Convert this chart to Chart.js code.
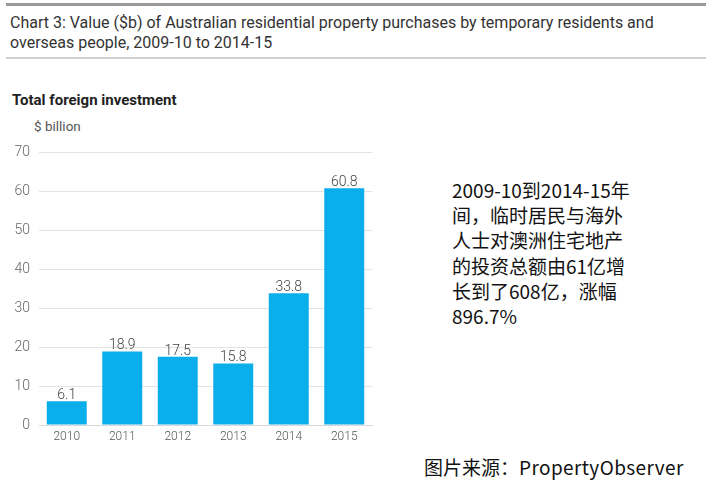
<!DOCTYPE html>
<html>
<head>
<meta charset="utf-8">
<script src="https://cdn.jsdelivr.net/npm/chart.js@4"></script>
<style>
    body { margin: 0; background: #fff; width: 713px; height: 496px; position: relative; overflow: hidden; }
    .rule-top { position: absolute; left: 6px; top: 3px; width: 700px; height: 3px; background: #9a9a9a; }
    .rule-mid { position: absolute; left: 6px; top: 57px; width: 700px; height: 2px; background: #cfcfcf; }
    .titulo { position: absolute; left: 10px; top: 13px; font-family: "Liberation Sans Narrow", "Roboto", sans-serif; font-size: 16px; line-height: 20px; color: #333; }
    .sub { position: absolute; left: 12px; top: 91px; font-family: "Roboto", sans-serif; font-weight: bold; font-size: 15px; color: #222; }
    .unidade { position: absolute; left: 34px; top: 118px; font-family: "Roboto", sans-serif; font-size: 13.5px; color: #555; }
    #wrap { position: absolute; left: 0; top: 135px; width: 385px; height: 312px; }
    .nota { position: absolute; left: 452px; top: 177px; font-family: "Noto Sans CJK SC", sans-serif; font-size: 19px; line-height: 25.2px; color: #111; }
    .fonte { position: absolute; left: 424px; top: 454px; font-family: "Noto Sans CJK SC", sans-serif; font-size: 19px; line-height: 26px; color: #111; }
    .ls { letter-spacing: 0.4px; }
</style>
</head>
<body>
<div class="rule-top"></div>
<div class="titulo">Chart 3: Value ($b) of Australian residential property purchases by temporary residents and<br>overseas people, 2009-10 to 2014-15</div>
<div class="rule-mid"></div>
<div class="sub">Total foreign investment</div>
<div class="unidade">$ billion</div>
<div id="wrap"><canvas id="barChart"></canvas></div>
<div class="nota">2009-10到2014-15年<br>间，临时居民与海外<br>人士对澳洲住宅地产<br>的投资总额由61亿增<br>长到了608亿，涨幅<br>896.7%</div>
<div class="fonte">图片来源：<span class="ls">PropertyObserver</span></div>

<script>
// Dados do gráfico
const anos = ['2010', '2011', '2012', '2013', '2014', '2015'];
const valores = [6.1, 18.9, 17.5, 15.8, 33.8, 60.8];
const ticksY = [0, 10, 20, 30, 40, 50, 60, 70];

// Plugin simples para os rótulos em cima das barras
const rotulosBarras = {
    id: 'rotulosBarras',
    afterDatasetsDraw(chart) {
        const ctx = chart.ctx;
        const meta = chart.getDatasetMeta(0);
        ctx.save();
        ctx.font = '300 14px Roboto, sans-serif';
        ctx.fillStyle = '#444';
        ctx.textAlign = 'center';
        ctx.textBaseline = 'alphabetic';
        meta.data.forEach((bar, i) => {
            ctx.fillText(valores[i].toFixed(1), bar.x, bar.y - 2);
        });
        ctx.restore();
    }
};

new Chart(document.getElementById('barChart'), {
    type: 'bar',
    data: {
        labels: anos,
        datasets: [{
            data: valores,
            backgroundColor: '#0aaeea',
            borderWidth: 0,
            categoryPercentage: 1,
            barPercentage: 0.72
        }]
    },
    options: {
        responsive: true,
        maintainAspectRatio: false,
        animation: false,
        layout: { padding: { top: 13, right: 13, left: 0, bottom: 0 } },
        plugins: {
            legend: { display: false },
            tooltip: { enabled: false }
        },
        scales: {
            y: {
                min: 0,
                max: 70,
                afterFit: (s) => { s.width = 39; },
                afterBuildTicks: (s) => { s.ticks = ticksY.map(v => ({ value: v })); },
                border: { display: false },
                grid: { color: '#e3e3e3', drawTicks: false },
                ticks: {
                    color: '#666',
                    padding: 9,
                    font: { family: 'Roboto', size: 14, weight: '300' }
                }
            },
            x: {
                afterFit: (s) => { s.height = 22; },
                border: { color: '#d8d8d8' },
                grid: { display: false, drawTicks: false },
                ticks: {
                    color: '#555',
                    padding: 5,
                    font: { family: 'Roboto', size: 12, weight: '300' }
                }
            }
        }
    },
    plugins: [rotulosBarras]
});
</script>
</body>
</html>
